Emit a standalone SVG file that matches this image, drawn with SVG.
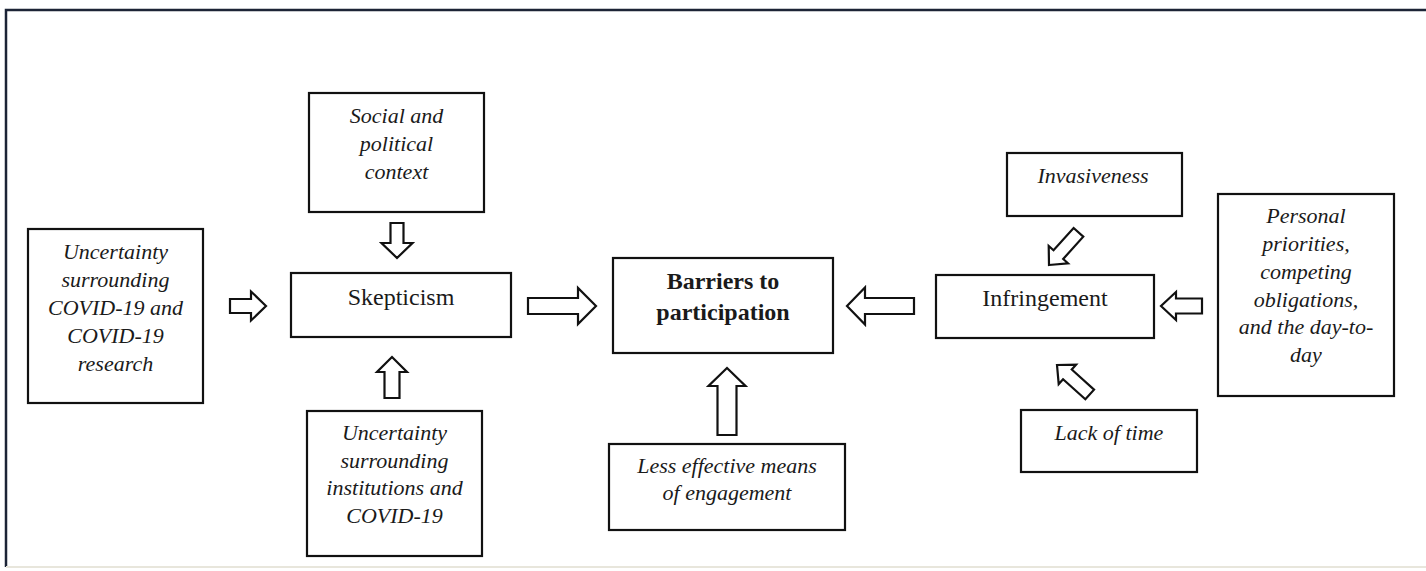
<svg xmlns="http://www.w3.org/2000/svg" width="1426" height="571" viewBox="0 0 1426 571">
<style>
.box{fill:#fff;stroke:#111;stroke-width:2.2}
.arr{fill:#fff;stroke:#111;stroke-width:2.2;stroke-linejoin:miter}
.it{font-family:"Liberation Serif","Times New Roman",serif;font-style:italic;font-size:22px;fill:#1a1a1a;text-anchor:middle}
.rg{font-family:"Liberation Serif","Times New Roman",serif;font-size:24px;fill:#1a1a1a;text-anchor:middle}
.bd{font-family:"Liberation Serif","Times New Roman",serif;font-size:24px;font-weight:bold;fill:#1a1a1a;text-anchor:middle}
</style>
<rect width="1426" height="571" fill="#fff"/>
<path d="M6,567 V10 H1426" fill="none" stroke="#1c2436" stroke-width="2.5"/>
<path d="M6,567 H1426" fill="none" stroke="#e8e6dc" stroke-width="2"/>

<g id="connectors">
<polygon class="arr" transform="translate(266,306)" points="0,0 -15,-14.5 -15,-7 -36,-7 -36,7 -15,7 -15,14.5"/>
<polygon class="arr" transform="translate(596,306)" points="0,0 -18,-18 -18,-8 -68,-8 -68,8 -18,8 -18,18"/>
<polygon class="arr" transform="translate(847,306) rotate(180)" points="0,0 -18,-18.5 -18,-8 -67,-8 -67,8 -18,8 -18,18.5"/>
<polygon class="arr" transform="translate(1161,306) rotate(180)" points="0,0 -15,-14 -15,-7.5 -41,-7.5 -41,7.5 -15,7.5 -15,14"/>
<polygon class="arr" transform="translate(397,258) rotate(90)" points="0,0 -15,-15.5 -15,-6.5 -35,-6.5 -35,6.5 -15,6.5 -15,15.5"/>
<polygon class="arr" transform="translate(392,357) rotate(-90)" points="0,0 -15,-15 -15,-7.5 -41,-7.5 -41,7.5 -15,7.5 -15,15"/>
<polygon class="arr" transform="translate(727,368) rotate(-90)" points="0,0 -18,-18.5 -18,-9.5 -67,-9.5 -67,9.5 -18,9.5 -18,18.5"/>
<polygon class="arr" transform="translate(1049,265) rotate(132)" points="0,0 -14,-13 -14,-6.5 -44,-6.5 -44,6.5 -14,6.5 -14,13"/>
<polygon class="arr" transform="translate(1057,365) rotate(222)" points="0,0 -14,-13 -14,-6.5 -44,-6.5 -44,6.5 -14,6.5 -14,13"/>
</g>

<g id="n-uncertainty-covid">
<rect class="box" x="28" y="229" width="175" height="174"/>
<text class="it" x="115.5" y="259">Uncertainty</text>
<text class="it" x="115.5" y="287">surrounding</text>
<text class="it" x="115.5" y="315">COVID-19 and</text>
<text class="it" x="115.5" y="343">COVID-19</text>
<text class="it" x="115.5" y="371">research</text>
</g>

<g id="n-social">
<rect class="box" x="309" y="93" width="175" height="119"/>
<text class="it" x="396.5" y="123">Social and</text>
<text class="it" x="396.5" y="151">political</text>
<text class="it" x="396.5" y="179">context</text>
</g>

<g id="n-skepticism">
<rect class="box" x="291" y="273" width="220" height="64"/>
<text class="rg" x="401" y="305">Skepticism</text>
</g>

<g id="n-institutions">
<rect class="box" x="307" y="411" width="175" height="145"/>
<text class="it" x="394.5" y="440">Uncertainty</text>
<text class="it" x="394.5" y="468">surrounding</text>
<text class="it" x="394.5" y="495">institutions and</text>
<text class="it" x="394.5" y="523">COVID-19</text>
</g>

<g id="n-barriers">
<rect class="box" x="613" y="258" width="220" height="95"/>
<text class="bd" x="723" y="289">Barriers to</text>
<text class="bd" x="723" y="320">participation</text>
</g>

<g id="n-less-effective">
<rect class="box" x="609" y="444" width="236" height="86"/>
<text class="it" x="727" y="473">Less effective means</text>
<text class="it" x="727" y="500">of engagement</text>
</g>

<g id="n-infringement">
<rect class="box" x="936" y="275" width="218" height="63"/>
<text class="rg" x="1045" y="306">Infringement</text>
</g>

<g id="n-invasiveness">
<rect class="box" x="1007" y="153" width="175" height="63"/>
<text class="it" x="1093" y="183">Invasiveness</text>
</g>

<g id="n-lack-of-time">
<rect class="box" x="1021" y="410" width="176" height="62"/>
<text class="it" x="1109" y="440">Lack of time</text>
</g>

<g id="n-personal">
<rect class="box" x="1218" y="194" width="176" height="202"/>
<text class="it" x="1306" y="223">Personal</text>
<text class="it" x="1306" y="251">priorities,</text>
<text class="it" x="1306" y="279">competing</text>
<text class="it" x="1306" y="307">obligations,</text>
<text class="it" x="1306" y="334">and the day-to-</text>
<text class="it" x="1306" y="362">day</text>
</g>
</svg>
